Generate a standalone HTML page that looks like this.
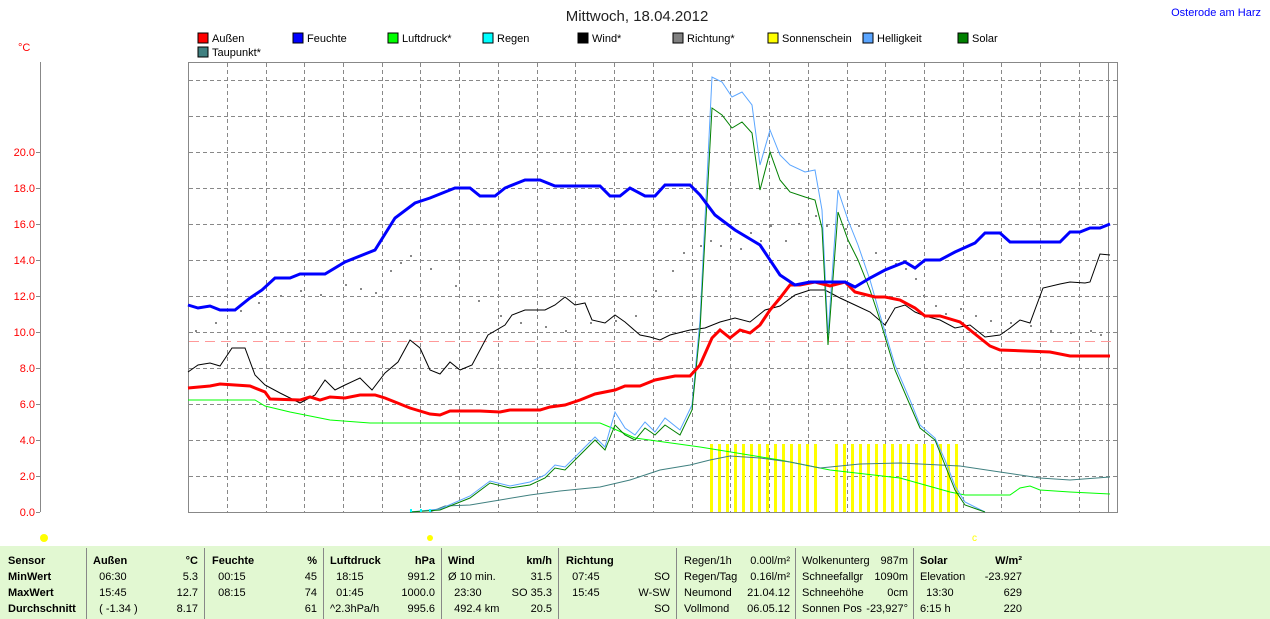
<!DOCTYPE html>
<html><head><meta charset="utf-8"><style>
body{margin:0;background:#fff;width:1270px;height:619px;overflow:hidden;font-family:"Liberation Sans",sans-serif;}
svg{position:absolute;left:0;top:0}
.tb{position:absolute;left:0;top:546px;width:1270px;height:73px;background:#e2f8d2;}
.c{position:absolute;font-size:11px;color:#000;line-height:16px;}
.b{font-weight:bold}
.sep{position:absolute;top:548px;width:1px;height:71px;background:#888}
</style></head><body>
<div class="tb"></div>
<svg width="1270" height="619" font-family="Liberation Sans, sans-serif">
<text x="637" y="21" font-size="15" text-anchor="middle" fill="#222">Mittwoch, 18.04.2012</text>
<text x="1261" y="16" font-size="11" text-anchor="end" fill="#0000ff">Osterode am Harz</text>
<text x="18" y="51" font-size="11" fill="#f00">°C</text>
<g font-size="11" fill="#000">
<rect x="198" y="33" width="10" height="10" fill="#f00" stroke="#000"/><text x="212" y="42">Außen</text>
<rect x="293" y="33" width="10" height="10" fill="#00f" stroke="#000"/><text x="307" y="42">Feuchte</text>
<rect x="388" y="33" width="10" height="10" fill="#0f0" stroke="#000"/><text x="402" y="42">Luftdruck*</text>
<rect x="483" y="33" width="10" height="10" fill="#0ff" stroke="#000"/><text x="497" y="42">Regen</text>
<rect x="578" y="33" width="10" height="10" fill="#000" stroke="#000"/><text x="592" y="42">Wind*</text>
<rect x="673" y="33" width="10" height="10" fill="#808080" stroke="#000"/><text x="687" y="42">Richtung*</text>
<rect x="768" y="33" width="10" height="10" fill="#ff0" stroke="#000"/><text x="782" y="42">Sonnenschein</text>
<rect x="863" y="33" width="10" height="10" fill="#5aa5ff" stroke="#000"/><text x="877" y="42">Helligkeit</text>
<rect x="958" y="33" width="10" height="10" fill="#008000" stroke="#000"/><text x="972" y="42">Solar</text>
<rect x="198" y="47" width="10" height="10" fill="#408080" stroke="#000"/><text x="212" y="56">Taupunkt*</text>
</g>
<line x1="40.5" y1="62" x2="40.5" y2="512" stroke="#888"/>
<g fill="#f00" font-size="11" text-anchor="end">
<text x="35" y="516">0.0</text><text x="35" y="480">2.0</text><text x="35" y="444">4.0</text><text x="35" y="408">6.0</text><text x="35" y="372">8.0</text><text x="35" y="336">10.0</text><text x="35" y="300">12.0</text><text x="35" y="264">14.0</text><text x="35" y="228">16.0</text><text x="35" y="192">18.0</text><text x="35" y="156">20.0</text>
</g>
<g stroke="#888"><line x1="36" y1="512.5" x2="40" y2="512.5"/><line x1="36" y1="476.5" x2="40" y2="476.5"/><line x1="36" y1="440.5" x2="40" y2="440.5"/><line x1="36" y1="404.5" x2="40" y2="404.5"/><line x1="36" y1="368.5" x2="40" y2="368.5"/><line x1="36" y1="332.5" x2="40" y2="332.5"/><line x1="36" y1="296.5" x2="40" y2="296.5"/><line x1="36" y1="260.5" x2="40" y2="260.5"/><line x1="36" y1="224.5" x2="40" y2="224.5"/><line x1="36" y1="188.5" x2="40" y2="188.5"/><line x1="36" y1="152.5" x2="40" y2="152.5"/></g>
<rect x="188.5" y="62.5" width="929" height="450" fill="none" stroke="#888"/>
<g stroke="#888" stroke-dasharray="4,3">
<path d="M189 80.5H1117M189 116.5H1117M189 152.5H1117M189 188.5H1117M189 224.5H1117M189 260.5H1117M189 296.5H1117M189 332.5H1117M189 368.5H1117M189 404.5H1117M189 440.5H1117M189 476.5H1117"/>
<path d="M227.5 63V512M266.5 63V512M304.5 63V512M343.5 63V512M382.5 63V512M420.5 63V512M459.5 63V512M498.5 63V512M537.5 63V512M575.5 63V512M614.5 63V512M653.5 63V512M692.5 63V512M730.5 63V512M769.5 63V512M808.5 63V512M847.5 63V512M885.5 63V512M924.5 63V512M963.5 63V512M1001.5 63V512M1040.5 63V512M1079.5 63V512"/>
</g>
<line x1="1108.5" y1="62" x2="1108.5" y2="512" stroke="#888"/>
<line x1="189" y1="341.5" x2="1117" y2="341.5" stroke="#f99" stroke-dasharray="10,6"/>
<g fill="#ff0">
<rect x="710" y="444" width="3" height="68"/><rect x="718" y="444" width="3" height="68"/><rect x="726" y="444" width="3" height="68"/><rect x="734" y="444" width="3" height="68"/><rect x="742" y="444" width="3" height="68"/><rect x="750" y="444" width="3" height="68"/><rect x="758" y="444" width="3" height="68"/><rect x="766" y="444" width="3" height="68"/><rect x="774" y="444" width="3" height="68"/><rect x="782" y="444" width="3" height="68"/><rect x="790" y="444" width="3" height="68"/><rect x="798" y="444" width="3" height="68"/><rect x="806" y="444" width="3" height="68"/><rect x="814" y="444" width="3" height="68"/>
<rect x="835" y="444" width="3" height="68"/><rect x="843" y="444" width="3" height="68"/><rect x="851" y="444" width="3" height="68"/><rect x="859" y="444" width="3" height="68"/><rect x="867" y="444" width="3" height="68"/><rect x="875" y="444" width="3" height="68"/><rect x="883" y="444" width="3" height="68"/><rect x="891" y="444" width="3" height="68"/><rect x="899" y="444" width="3" height="68"/><rect x="907" y="444" width="3" height="68"/><rect x="915" y="444" width="3" height="68"/><rect x="923" y="444" width="3" height="68"/><rect x="931" y="444" width="3" height="68"/><rect x="939" y="444" width="3" height="68"/><rect x="947" y="444" width="3" height="68"/><rect x="955" y="444" width="3" height="68"/>
</g>
<g fill="#888">
<rect x="195" y="330" width="2" height="2"/><rect x="215" y="322" width="2" height="2"/><rect x="240" y="310" width="2" height="2"/><rect x="258" y="302" width="2" height="2"/><rect x="280" y="295" width="2" height="2"/><rect x="300" y="290" width="2" height="2"/><rect x="320" y="294" width="2" height="2"/><rect x="345" y="284" width="2" height="2"/><rect x="360" y="288" width="2" height="2"/><rect x="375" y="292" width="2" height="2"/><rect x="390" y="270" width="2" height="2"/><rect x="400" y="262" width="2" height="2"/><rect x="410" y="255" width="2" height="2"/><rect x="430" y="268" width="2" height="2"/><rect x="455" y="285" width="2" height="2"/><rect x="478" y="300" width="2" height="2"/><rect x="500" y="315" width="2" height="2"/><rect x="520" y="322" width="2" height="2"/><rect x="545" y="326" width="2" height="2"/><rect x="565" y="330" width="2" height="2"/><rect x="590" y="322" width="2" height="2"/><rect x="615" y="320" width="2" height="2"/><rect x="635" y="315" width="2" height="2"/><rect x="655" y="290" width="2" height="2"/><rect x="672" y="270" width="2" height="2"/><rect x="683" y="252" width="2" height="2"/><rect x="700" y="245" width="2" height="2"/><rect x="710" y="240" width="2" height="2"/><rect x="720" y="245" width="2" height="2"/><rect x="730" y="238" width="2" height="2"/><rect x="740" y="248" width="2" height="2"/><rect x="750" y="232" width="2" height="2"/><rect x="760" y="240" width="2" height="2"/><rect x="770" y="225" width="2" height="2"/><rect x="785" y="240" width="2" height="2"/><rect x="798" y="223" width="2" height="2"/><rect x="815" y="215" width="2" height="2"/><rect x="826" y="225" width="2" height="2"/><rect x="845" y="228" width="2" height="2"/><rect x="858" y="225" width="2" height="2"/><rect x="875" y="252" width="2" height="2"/><rect x="895" y="263" width="2" height="2"/><rect x="905" y="268" width="2" height="2"/><rect x="915" y="278" width="2" height="2"/><rect x="923" y="295" width="2" height="2"/><rect x="935" y="305" width="2" height="2"/><rect x="945" y="313" width="2" height="2"/><rect x="960" y="308" width="2" height="2"/><rect x="975" y="315" width="2" height="2"/><rect x="990" y="320" width="2" height="2"/><rect x="1010" y="322" width="2" height="2"/><rect x="1030" y="325" width="2" height="2"/><rect x="1050" y="330" width="2" height="2"/><rect x="1070" y="332" width="2" height="2"/><rect x="1090" y="330" width="2" height="2"/><rect x="1100" y="334" width="2" height="2"/>
</g>
<polyline fill="none" stroke="#0f0" stroke-width="1" points="188,400 255,400 265,406 290,412 330,420 370,423 600,423 612,428 635,438 700,447 780,460 830,470 900,478 950,492 965,495 1010,495 1020,488 1030,486 1040,490 1070,492 1110,494"/>
<polyline fill="none" stroke="#408080" stroke-width="1" points="430,512 445,506 470,505 500,500 530,495 560,491 600,487 630,480 660,470 690,465 710,460 730,456 760,458 790,462 820,468 860,464 900,463 960,466 1000,472 1040,478 1070,480 1110,477"/>
<polyline fill="none" stroke="#000" stroke-width="1" points="188,372 198,365 210,363 220,366 232,348 245,348 255,375 265,385 280,393 300,403 315,395 325,380 335,390 345,385 360,378 372,390 385,373 398,362 410,340 420,348 430,370 440,374 450,362 460,370 472,365 488,335 505,325 512,315 525,310 545,310 555,305 565,297 575,305 585,303 592,320 605,323 615,315 625,322 640,335 650,337 660,340 670,335 690,330 705,328 720,322 735,318 750,322 765,310 780,306 795,295 810,290 825,290 840,298 855,305 870,312 885,325 895,308 905,305 915,312 925,316 940,320 955,328 970,325 985,337 1000,335 1010,328 1020,320 1030,323 1043,288 1060,284 1070,282 1085,283 1090,282 1100,254 1110,255"/>
<polyline fill="none" stroke="#5aa5ff" stroke-width="1" points="410,512 440,509 470,496 490,481 510,486 530,482 545,475 555,465 565,467 580,452 595,437 605,447 615,412 625,428 635,435 645,422 655,432 665,418 680,430 692,405 700,320 712,77 722,82 732,97 742,92 752,105 760,165 770,130 780,155 790,165 805,172 815,170 822,210 828,335 838,190 848,220 858,245 870,280 880,315 895,365 910,400 920,425 935,438 945,460 955,486 965,502 985,512"/>
<polyline fill="none" stroke="#008000" stroke-width="1" points="410,512 440,510 470,498 490,483 510,488 530,485 545,478 555,468 565,470 580,455 595,440 605,450 615,425 625,435 635,440 645,428 655,435 665,425 680,435 692,410 700,330 712,108 722,115 732,128 742,122 752,133 760,190 770,152 780,180 790,192 805,197 815,200 822,228 828,345 838,212 848,240 858,260 870,290 880,320 895,370 910,405 920,428 935,440 945,465 955,490 965,505 985,512"/>
<polyline fill="none" stroke="#f00" stroke-width="3" points="188,388 210,386 220,384 250,386 265,392 270,399 300,400 310,397 320,400 330,397 345,398 360,395 375,395 385,398 395,402 410,408 430,414 440,415 450,411 480,411 500,412 510,410 540,410 550,407 565,405 580,400 595,394 615,390 625,386 640,386 655,380 675,376 690,376 700,365 712,338 720,330 730,338 740,330 750,333 760,325 770,310 780,298 790,285 800,285 815,282 830,286 845,282 855,292 875,297 885,297 900,300 915,308 925,316 940,316 960,322 975,334 990,346 1000,350 1050,352 1070,356 1110,356"/>
<polyline fill="none" stroke="#00f" stroke-width="3" points="188,305 198,308 210,306 220,310 235,310 250,298 262,290 275,278 290,278 300,274 325,274 345,262 375,250 395,218 415,203 430,198 455,188 470,188 480,196 495,196 505,188 525,180 540,180 555,186 600,186 610,196 620,196 630,188 645,196 655,196 665,185 690,185 700,195 715,215 735,230 760,245 780,275 795,285 810,282 845,282 855,287 870,278 885,270 905,262 915,268 925,260 940,260 955,252 975,243 985,233 1000,233 1010,242 1060,242 1070,232 1080,232 1090,228 1100,228 1110,224"/>
<g stroke="#0ff" stroke-width="2"><line x1="411" y1="509" x2="411" y2="512"/><line x1="421" y1="509" x2="421" y2="512"/><line x1="430" y1="509" x2="430" y2="512"/></g>
<circle cx="44" cy="538" r="4" fill="#ff0"/>
<circle cx="430" cy="538" r="3" fill="#ff0"/>
<text x="972" y="541" font-size="10" fill="#ff0">c</text>
</svg>
<div class="sep" style="left:86px"></div><div class="sep" style="left:204px"></div><div class="sep" style="left:323px"></div><div class="sep" style="left:441px"></div><div class="sep" style="left:558px"></div><div class="sep" style="left:676px"></div><div class="sep" style="left:795px"></div><div class="sep" style="left:913px"></div>
<div class="c b" style="left:8px;top:553px">Sensor<br>MinWert<br>MaxWert<br>Durchschnitt</div>
<div class="c" style="left:93px;top:553px;width:105px"><b>Außen</b><br>&nbsp;&nbsp;06:30<br>&nbsp;&nbsp;15:45<br>&nbsp;&nbsp;( -1.34 )</div>
<div class="c" style="left:150px;top:553px;width:48px;text-align:right"><b>°C</b><br>5.3<br>12.7<br>8.17</div>
<div class="c" style="left:212px;top:553px"><b>Feuchte</b><br>&nbsp;&nbsp;00:15<br>&nbsp;&nbsp;08:15<br>&nbsp;</div>
<div class="c" style="left:270px;top:553px;width:47px;text-align:right"><b>%</b><br>45<br>74<br>61</div>
<div class="c" style="left:330px;top:553px"><b>Luftdruck</b><br>&nbsp;&nbsp;18:15<br>&nbsp;&nbsp;01:45<br>^2.3hPa/h</div>
<div class="c" style="left:385px;top:553px;width:50px;text-align:right"><b>hPa</b><br>991.2<br>1000.0<br>995.6</div>
<div class="c" style="left:448px;top:553px"><b>Wind</b><br>Ø 10 min.<br>&nbsp;&nbsp;23:30<br>&nbsp;&nbsp;492.4 km</div>
<div class="c" style="left:500px;top:553px;width:52px;text-align:right"><b>km/h</b><br>31.5<br>SO 35.3<br>20.5</div>
<div class="c" style="left:566px;top:553px"><b>Richtung</b><br>&nbsp;&nbsp;07:45<br>&nbsp;&nbsp;15:45</div>
<div class="c" style="left:620px;top:553px;width:50px;text-align:right">&nbsp;<br>SO<br>W-SW<br>SO</div>
<div class="c" style="left:684px;top:553px">Regen/1h<br>Regen/Tag<br>Neumond<br>Vollmond</div>
<div class="c" style="left:730px;top:553px;width:60px;text-align:right">0.00l/m²<br>0.16l/m²<br>21.04.12<br>06.05.12</div>
<div class="c" style="left:802px;top:553px">Wolkenunterg<br>Schneefallgr<br>Schneehöhe<br>Sonnen Pos</div>
<div class="c" style="left:850px;top:553px;width:58px;text-align:right">987m<br>1090m<br>0cm<br>-23,927°</div>
<div class="c" style="left:920px;top:553px"><b>Solar</b><br>Elevation<br>&nbsp;&nbsp;13:30<br>6:15 h</div>
<div class="c" style="left:970px;top:553px;width:52px;text-align:right"><b>W/m²</b><br>-23.927<br>629<br>220</div>
</body></html>
